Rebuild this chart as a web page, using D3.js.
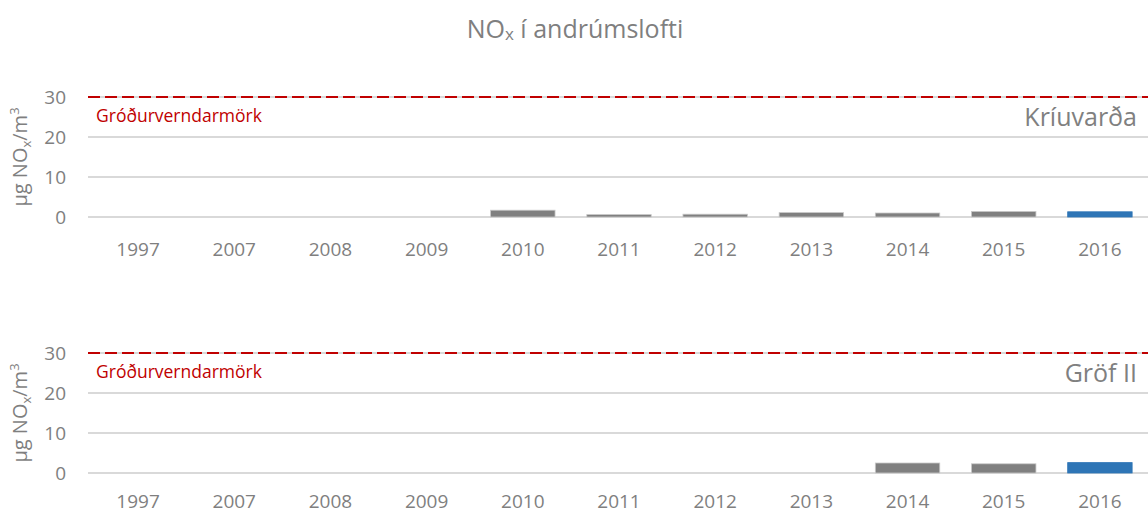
<!DOCTYPE html>
<html>
<head>
<meta charset="utf-8">
<script src="https://cdn.jsdelivr.net/npm/d3@7"></script>
<style>
  body { margin: 0; background: #fff; }
  text { font-family: "Open Sans", sans-serif; }
</style>
</head>
<body>
<div id="chart"></div>
<script>
// data
var years = ["1997", "2007", "2008", "2009", "2010", "2011", "2012", "2013", "2014", "2015", "2016"];
var kriuvardaValues = [null, null, null, null, 1.7, 0.6, 0.7, 1.1, 1.0, 1.4, 1.3];
var grofValues = [null, null, null, null, null, null, null, null, 2.5, 2.3, 2.6];
var yTicks = [0, 10, 20, 30];
var limitValue = 30;
var limitLabel = "Gróðurverndarmörk";
var stations = ["Kríuvarða", "Gröf II"];

var width = 1148, height = 514;

var svg = d3.select("#chart")
  .append("svg")
    .attr("width", width)
    .attr("height", height);

// title
var title = svg.append("text")
  .attr("x", 575)
  .attr("y", 38)
  .attr("text-anchor", "middle")
  .attr("font-size", "25px")
  .attr("fill", "#7f7f7f");
title.append("tspan").text("NO");
title.append("tspan").text("x").attr("font-size", "17px").attr("dy", "2");
title.append("tspan").text(" í andrúmslofti").attr("dy", "-2");

var x = d3.scaleBand()
  .domain(years)
  .range([90, 1148])
  .paddingInner(0.33)
  .paddingOuter(0.165);

function drawPanel(top, values, name) {
  var y = d3.scaleLinear()
    .domain([0, 30])
    .range([top + 120, top]);

  var g = svg.append("g");

  // gridlines
  g.selectAll(".grid")
    .data(yTicks)
    .enter()
    .append("line")
    .attr("x1", 88)
    .attr("x2", 1148)
    .attr("y1", d => y(d))
    .attr("y2", d => y(d))
    .attr("stroke", "#d9d9d9")
    .attr("stroke-width", 2);

  // y tick labels
  g.selectAll(".tick")
    .data(yTicks)
    .enter()
    .append("text")
    .attr("x", 66)
    .attr("y", d => y(d))
    .attr("dy", "0.35em")
    .attr("text-anchor", "end")
    .attr("font-size", "19px")
    .attr("fill", "#7f7f7f")
    .text(d => d);

  // y axis label
  var lab = g.append("text")
    .attr("transform", "translate(27," + y(15) + ") rotate(-90)")
    .attr("text-anchor", "middle")
    .attr("font-size", "20px")
    .attr("fill", "#7f7f7f");
  lab.append("tspan").text("µg NO");
  lab.append("tspan").text("x").attr("font-size", "13px").attr("dy", "4");
  lab.append("tspan").text("/m").attr("dy", "-4");
  lab.append("tspan").text("3").attr("font-size", "13px").attr("dy", "-8");

  // bars
  var data = years.map((d, i) => ({year: d, value: values[i]})).filter(d => d.value != null);
  g.selectAll(".bar")
    .data(data)
    .enter()
    .append("rect")
    .attr("x", d => x(d.year))
    .attr("width", x.bandwidth())
    .attr("y", d => y(d.value))
    .attr("height", d => y(0) - y(d.value))
    .attr("fill", d => d.year == "2016" ? "#2e75b6" : "#808080")
    .attr("stroke", d => d.year == "2016" ? "#2e75b6" : "#c8c8c8")
    .attr("stroke-width", 0.8);

  // limit line
  g.append("line")
    .attr("x1", 88)
    .attr("x2", 1148)
    .attr("y1", y(limitValue))
    .attr("y2", y(limitValue))
    .attr("stroke", "#c00000")
    .attr("stroke-width", 2)
    .attr("stroke-dasharray", "12,5");

  g.append("text")
    .attr("x", 96)
    .attr("y", y(limitValue) + 25)
    .attr("font-size", "17.5px")
    .attr("fill", "#c00000")
    .text(limitLabel);

  // station name
  g.append("text")
    .attr("x", 1137)
    .attr("y", y(limitValue) + 29)
    .attr("text-anchor", "end")
    .attr("font-size", "25px")
    .attr("fill", "#808080")
    .text(name);

  // x labels
  g.selectAll(".xlab")
    .data(years)
    .enter()
    .append("text")
    .attr("x", d => x(d) + x.bandwidth() / 2)
    .attr("y", Math.min(top + 159, 508))
    .attr("text-anchor", "middle")
    .attr("font-size", "19px")
    .attr("fill", "#7f7f7f")
    .text(d => d);
}

drawPanel(97, kriuvardaValues, stations[0]);
drawPanel(353, grofValues, stations[1]);
</script>
</body>
</html>
